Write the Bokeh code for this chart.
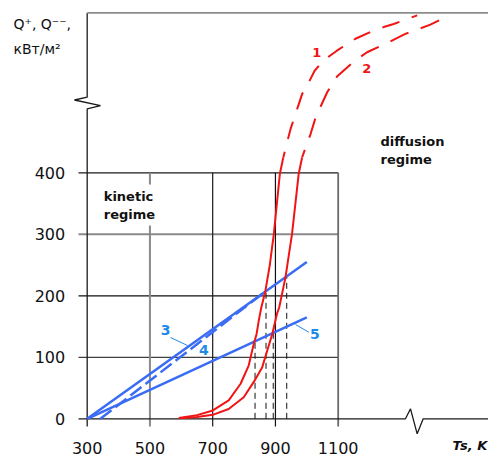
import numpy as np
from bokeh.plotting import figure
from bokeh.models import Range1d, LinearAxis, FixedTicker, Label
from bokeh.embed import file_html
from bokeh.resources import INLINE

# ---------------- data ----------------
temp_ticks = [300, 500, 700, 900, 1100]
q_ticks = [0, 100, 200, 300, 400]

# curve 1 (heat release, solid then dashed)
t1_solid = [592, 650, 698, 751, 789, 815, 831, 840, 847, 855, 868, 882, 895, 914, 925]
q1_solid = [1.5, 6, 13, 30, 57, 87, 122, 138, 160, 181, 208, 250, 301, 398, 425]
t1_dash = [925, 948, 985, 1001, 1025, 1054, 1097, 1155, 1203, 1245, 1277, 1314, 1352]
q1_dash = [425, 471, 528, 542, 566, 583, 599, 618, 629, 637, 642, 649, 656]

# curve 2
t2_solid = [592, 650, 700, 751, 799, 831, 858, 874, 890, 905, 912, 932, 953, 974, 985]
q2_solid = [1, 3, 6.5, 16, 35, 60, 84, 111, 138, 171, 181, 230, 301, 398, 425]
t2_dash = [985, 1012, 1028, 1065, 1097, 1150, 1192, 1256, 1314, 1357, 1394, 1426, 1458]
q2_dash = [425, 463, 490, 531, 557, 581, 596, 611, 626, 634, 641, 649, 656]

# heat loss lines 3, 4, 5
t3 = [300, 1000]
q3 = [0, 255]
t4 = [342, 860]
q4 = [0, 204]
t5 = [300, 1000]
q5 = [0, 165]

# intersection temperatures (dashed drop lines) and which loss line they lie on
t_cross = [835, 870, 893, 936]
cross_on = ["5", "3", "5", "3"]

# ---------------- figure ----------------
X0, X1 = 23.7, 1579.1
Y0, Y1 = -62.9, 680.2
p = figure(width=488, height=457, x_range=Range1d(X0, X1), y_range=Range1d(Y0, Y1),
           output_backend="svg", toolbar_location=None,
           x_axis_type=None, y_axis_type=None, min_border=0)
p.outline_line_color = None
p.background_fill_color = "white"

RED = "#F01414"
BLUE = "#3A6CF4"
BLUE_TXT = "#1E8AE8"
FONT = "DejaVu Sans"

# grid (limited to the 300..1100 x 0..400 box)
x_left = 272.3   # small overhang left of the axis
y_low = -12.5    # small overhang below the axis
h_colors = ["#404040", "#111111", "#8a8a8a", "#1a1a1a"]
h_widths = [1.3, 1.2, 2.0, 1.2]
p.segment(x0=[x_left] * 4, y0=q_ticks[1:], x1=[temp_ticks[-1]] * 4, y1=q_ticks[1:],
          line_color=h_colors, line_width=h_widths)
v_colors = ["#8a8a8a", "#1a1a1a", "#111111", "#6a6a6a"]
v_widths = [2.0, 1.2, 1.2, 1.8]
p.segment(x0=temp_ticks[1:], y0=[y_low] * 4, x1=temp_ticks[1:], y1=[q_ticks[-1]] * 4,
          line_color=v_colors, line_width=v_widths)

# axes lines with breaks
y_top = 660
p.line([x_left, 1314.5, 1330.5, 1351.8, 1371, X1], [0, 0, 16.3, -24.4, 0, 0],
       line_color="#1a1a1a", line_width=1.3)
p.line([300, 300, 342.4, 259.5, 300, 300], [y_low, 504, 509.4, 518.4, 523, y_top],
       line_color="#1a1a1a", line_width=1.3)
p.line([300, X1], [y_top, y_top], line_color="#8c8c8c", line_width=1.6)

# dashed drop lines
q_cross = [float(np.interp(t, t3, q3)) if w == "3" else float(np.interp(t, t5, q5))
           for t, w in zip(t_cross, cross_on)]
p.segment(x0=t_cross, y0=[0] * 4, x1=t_cross, y1=q_cross,
          line_color="#111111", line_width=1, line_dash="6 4")

# loss lines
p.line(t3, q3, line_color=BLUE, line_width=2.5)
p.line(t5, q5, line_color=BLUE, line_width=2.5)
p.line(t4, q4, line_color=BLUE, line_width=2.5, line_dash="14 5")

# heat release curves
p.line(t1_solid, q1_solid, line_color=RED, line_width=2, line_join="round")
p.line(t2_solid, q2_solid, line_color=RED, line_width=2, line_join="round")
p.line(t1_dash, q1_dash, line_color=RED, line_width=2, line_dash="18 13", line_dash_offset=12)
p.line(t2_dash, q2_dash, line_color=RED, line_width=2, line_dash="20 13", line_dash_offset=12)

# leader lines for 3 and 5
p.segment(x0=[565.5, 964], y0=[132.2, 153.3], x1=[619.7, 1006.3], y1=[119.2, 140.8],
          line_color=BLUE_TXT, line_width=1)

# axes (ticks + labels)
xax = LinearAxis(fixed_location=0, ticker=FixedTicker(ticks=temp_ticks),
                 axis_line_color=None, major_tick_line_color=None, minor_tick_line_color=None,
                 major_tick_in=0, major_tick_out=0, major_label_standoff=23,
                 major_label_text_font=FONT, major_label_text_font_size="16px",
                 major_label_text_color="#111111")
p.add_layout(xax, "below")
yax = LinearAxis(fixed_location=300, ticker=FixedTicker(ticks=q_ticks),
                 axis_line_color=None, major_tick_line_color=None, minor_tick_line_color=None,
                 major_tick_in=0, major_tick_out=0, major_label_standoff=22,
                 major_label_text_font=FONT, major_label_text_font_size="16px",
                 major_label_text_color="#111111")
p.add_layout(yax, "left")

# texts
p.add_layout(Label(x=65.1, y=655.4, text="Q⁺, Q⁻⁻,", text_font=FONT, text_font_size="14px",
                   text_baseline="top", text_align="left", text_color="#111111"))
p.add_layout(Label(x=65.1, y=614.3, text="кВт/м²", text_font=FONT, text_font_size="14px",
                   text_baseline="top", text_align="left", text_color="#111111"))
p.add_layout(Label(x=1575, y=-43.4, text="Ts, K", text_font=FONT, text_font_size="13px",
                   text_font_style="bold italic", text_baseline="middle", text_align="right",
                   text_color="#111111"))
p.add_layout(Label(x=340, y=381, text="kinetic\nregime", text_font=FONT, text_font_size="13px",
                   text_font_style="bold", text_baseline="top", text_align="left",
                   text_color="#111111", background_fill_color="white", padding=4))
p.add_layout(Label(x=1234.8, y=463.9, text="diffusion\nregime", text_font=FONT,
                   text_font_size="13px", text_font_style="bold", text_baseline="top",
                   text_align="left", text_color="#111111"))

for txt, x, y in [("1", 1031.8, 596.1), ("2", 1191, 569.1)]:
    p.add_layout(Label(x=x, y=y, text=txt, text_font=FONT, text_font_size="13px",
                       text_font_style="bold", text_align="center", text_baseline="middle",
                       text_color=RED))
for txt, x, y in [("3", 549.9, 144.7), ("4", 671.6, 111.1), ("5", 1025.4, 138.2)]:
    p.add_layout(Label(x=x, y=y, text=txt, text_font=FONT, text_font_size="14px",
                       text_font_style="bold", text_align="center", text_baseline="middle",
                       text_color=BLUE_TXT))

open("out.html", "w").write(file_html(p, INLINE))
